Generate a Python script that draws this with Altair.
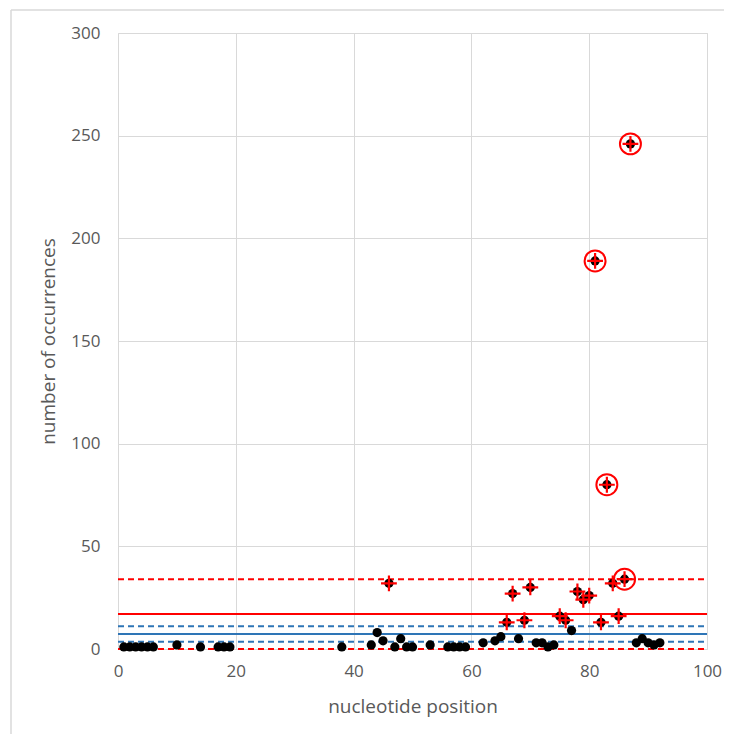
import altair as alt
import pandas as pd

# All observations (black dots)
pos_all = [1, 2, 3, 4, 5, 6, 10, 14, 17, 18, 19, 38, 43, 44, 45, 46, 47, 48, 49, 50, 53,
           56, 57, 58, 59, 62, 64, 65, 66, 67, 68, 69, 70, 71, 72, 73, 74, 75, 76, 77,
           78, 79, 80, 81, 82, 83, 84, 85, 86, 87, 88, 89, 90, 91, 92]
cnt_all = [1, 1, 1, 1, 1, 1, 2, 1, 1, 1, 1, 1, 2, 8, 4, 32, 1, 5, 1, 1, 2,
           1, 1, 1, 1, 3, 4, 6, 13, 27, 5, 14, 30, 3, 3, 1, 2, 16, 14, 9,
           28, 24, 26, 189, 13, 80, 32, 16, 34, 246, 3, 5, 3, 2, 3]

# Outliers (red plus markers)
pos_out = [46, 66, 67, 69, 70, 75, 76, 78, 79, 80, 81, 82, 83, 84, 85, 86, 87]
cnt_out = [32, 13, 27, 14, 30, 16, 14, 28, 24, 26, 189, 13, 80, 32, 16, 34, 246]

# Extreme outliers (red circles)
pos_ext = [81, 83, 86, 87]
cnt_ext = [189, 80, 34, 246]

# Reference lines
line_vals = [34, 17, 0, 11.1, 7.3, 3.5]
line_group = ["red_dash", "red_solid", "red_dash", "blue_dash", "blue_solid", "blue_dash"]

W, H = 589, 616
GRAY = "#595959"
GRID = "#D9D9D9"
RED = "#FF0000"
BLUE = "#2E75B6"
FONT = "Open Sans"

df_all = pd.DataFrame({"pos": pos_all, "cnt": cnt_all})
df_out = pd.DataFrame({"pos": pos_out, "cnt": cnt_out})
df_ext = pd.DataFrame({"pos": pos_ext, "cnt": cnt_ext})
df_lines = pd.DataFrame({"y": line_vals, "g": line_group})

xsc = alt.Scale(domain=[0, 100], nice=False)
ysc = alt.Scale(domain=[0, 300], nice=False)

xax = alt.Axis(values=[0, 20, 40, 60, 80, 100], grid=True, gridColor=GRID, gridWidth=1,
               domain=False, ticks=False, labelColor=GRAY, labelFont=FONT, labelFontSize=17,
               labelFlush=False, labelPadding=14, title="nucleotide position", titleColor=GRAY,
               titleFont=FONT, titleFontSize=19, titleFontWeight="normal", titlePadding=18)
yax = alt.Axis(values=[0, 50, 100, 150, 200, 250, 300], grid=True, gridColor=GRID, gridWidth=1,
               domain=False, ticks=False, labelColor=GRAY, labelFont=FONT, labelFontSize=17,
               labelFlush=False, labelPadding=18, title="number of occurrences", titleColor=GRAY,
               titleFont=FONT, titleFontSize=19, titleFontWeight="normal", titlePadding=12)

base_grid = alt.Chart(df_all).mark_point(opacity=0).encode(
    x=alt.X("pos:Q", scale=xsc, axis=xax),
    y=alt.Y("cnt:Q", scale=ysc, axis=yax),
)

def lines(group, color, dash):
    d = df_lines[df_lines.g == group]
    props = dict(color=color, strokeWidth=2)
    if dash:
        props["strokeDash"] = [6, 4]
    return alt.Chart(d).mark_rule(**props).encode(
        y=alt.Y("y:Q", scale=ysc),
        x=alt.value(0), x2=alt.value(W),
    )

dots = alt.Chart(df_all).mark_circle(color="black", size=85, opacity=1).encode(
    x=alt.X("pos:Q", scale=xsc), y=alt.Y("cnt:Q", scale=ysc))

plus = alt.Chart(df_out).mark_point(
    shape="M-1,0H1M0,-1V1", size=250, color=RED, strokeWidth=2.2, filled=False, opacity=1
).encode(x=alt.X("pos:Q", scale=xsc), y=alt.Y("cnt:Q", scale=ysc))

rings = alt.Chart(df_ext).mark_point(
    shape="circle", size=440, color=RED, strokeWidth=2, filled=False, opacity=1
).encode(x=alt.X("pos:Q", scale=xsc), y=alt.Y("cnt:Q", scale=ysc))

one = pd.DataFrame({"a": [0]})
frame_left = alt.Chart(one).mark_rule(color=GRID, strokeWidth=1.5).encode(
    x=alt.value(-107), y=alt.value(-23), y2=alt.value(H + 120))
frame_top = alt.Chart(one).mark_rule(color=GRID, strokeWidth=1.5).encode(
    x=alt.value(-107), x2=alt.value(W + 40), y=alt.value(-23))

chart = alt.layer(
    base_grid, frame_left, frame_top,
    lines("blue_dash", BLUE, True), lines("blue_solid", BLUE, False),
    lines("red_dash", RED, True), lines("red_solid", RED, False),
    dots, plus, rings,
).properties(
    width=W, height=H,
    autosize=alt.AutoSizeParams(type="none"),
    padding={"left": 110, "top": 25, "right": 17, "bottom": 85},
).configure_view(stroke=None).configure(background="white")

chart.save("out.html", embed_options={"renderer": "svg", "actions": False})
